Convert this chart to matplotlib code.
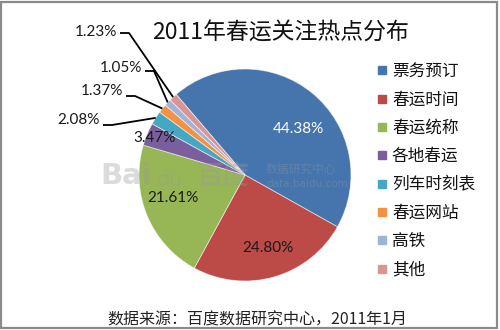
import matplotlib
matplotlib.use("Agg")
import matplotlib.pyplot as plt
from matplotlib.lines import Line2D
from matplotlib.patches import Rectangle
import numpy as np

# ---- data ----
categories = ["票务预订", "春运时间", "春运统称", "各地春运", "列车时刻表", "春运网站", "高铁", "其他"]
values = [44.38, 24.80, 21.61, 3.47, 2.08, 1.37, 1.05, 1.23]
title = "2011年春运关注热点分布"
source = "数据来源：百度数据研究中心，2011年1月"

colors = ["#4675AE", "#BC4A47", "#97B655", "#7B5E9E", "#45A7C2", "#F39243", "#9DB3D9", "#D99593"]

CJK = ["Noto Sans CJK SC", "DejaVu Sans"]
NUM = ["Lato", "DejaVu Sans"]

W, H = 500, 330
CX, CY, R = 245, 175, 106  # pie centre/radius in pixels (layout)

fig = plt.figure(figsize=(W / 100, H / 100), dpi=100)
fig.patch.set_facecolor("white")
ax = fig.add_axes([0, 0, 1, 1])
ax.set_xlim(-CX / R, (W - CX) / R)
ax.set_ylim(-(H - CY) / R, CY / R)
ax.set_aspect("equal")
ax.axis("off")


def px(x, y):
    return (x - CX) / R, (CY - y) / R


wedges, _ = ax.pie(values, colors=colors, startangle=130.5, counterclock=False,
                   radius=1.0, center=(0, 0),
                   wedgeprops=dict(edgecolor=(1, 1, 1, 0.6), linewidth=0.6))
ax.set_xlim(-CX / R, (W - CX) / R)
ax.set_ylim(-(H - CY) / R, CY / R)

# watermark
wm = dict(color="#9a9a9a", alpha=0.35, zorder=5)
ax.text(*px(100, 176), "Bai", fontsize=21, fontweight="bold", family=["DejaVu Sans"], va="center", ha="left", **wm)
ax.text(*px(157, 180), "du", fontsize=15, family=["DejaVu Sans"], va="center", ha="left", **wm)
ax.text(*px(196, 176), "百度", fontsize=19, fontweight="bold", family=CJK, va="center", ha="left", **wm)
ax.text(*px(266, 169), "数据研究中心", fontsize=8.5, family=CJK, va="center", ha="left", **wm)
ax.text(*px(266, 184), "data.baidu.com", fontsize=7.5, family=["DejaVu Sans"], va="center", ha="left", **wm)

# inside labels (layout positions in px)
inside_pos = {0: (298, 129), 1: (268, 248), 2: (173, 198), 3: (155, 138)}
for i, (x, y) in inside_pos.items():
    ax.text(*px(x, y), f"{values[i]:.2f}%", fontsize=11, family=NUM,
            color="white" if i == 0 else "#1a1a1a", ha="center", va="center", zorder=6)

# outside labels with leader lines: text right edge, text y, line y, elbow length (px)
outside = {7: (117, 32, 33, 9), 6: (142, 68, 71, 9), 5: (123, 91, 96, 9), 4: (100, 120, 125, 9)}
for i, (xr, ty, ly, el) in outside.items():
    ax.text(*px(xr, ty), f"{values[i]:.2f}%", fontsize=11, family=NUM,
            color="#1a1a1a", ha="right", va="center", zorder=6)
    w = wedges[i]
    mid = np.deg2rad((w.theta1 + w.theta2) / 2)
    ex, ey = np.cos(mid) * 1.0, np.sin(mid) * 1.0
    x0, y0 = px(xr + 3, ly)
    x1, y1 = px(xr + 3 + el, ly)
    ax.plot([x0, x1, ex], [y0, y1, ey], color="black", lw=1.3, zorder=6,
            solid_capstyle="butt")

# title and source
fig.text(281 / W, 1 - 33 / H, title, fontsize=16.5, family=CJK, ha="center", va="center", color="#111111")
fig.text(257 / W, 1 - 320 / H, source, fontsize=11.5, family=CJK, ha="center", va="center", color="#222222")

# legend
handles = [Line2D([], [], marker="s", linestyle="none", markersize=5.5,
                  markerfacecolor=c, markeredgecolor=c) for c in colors]
leg = ax.legend(handles, categories, loc="upper left",
                bbox_to_anchor=(377 / W, 1 - 63 / H), bbox_transform=fig.transFigure,
                frameon=False, prop={"family": CJK, "size": 12},
                handlelength=0.6, handletextpad=0.3, labelspacing=0.68,
                borderpad=0, borderaxespad=0)
for t in leg.get_texts():
    t.set_color("#111111")

# outer border
fig.patches.append(Rectangle((1 / W, 2 / H), 496 / W, 326 / H, transform=fig.transFigure,
                             fill=False, edgecolor="#8a8a8a", linewidth=1.6))

fig.savefig("out.png", dpi=100)
